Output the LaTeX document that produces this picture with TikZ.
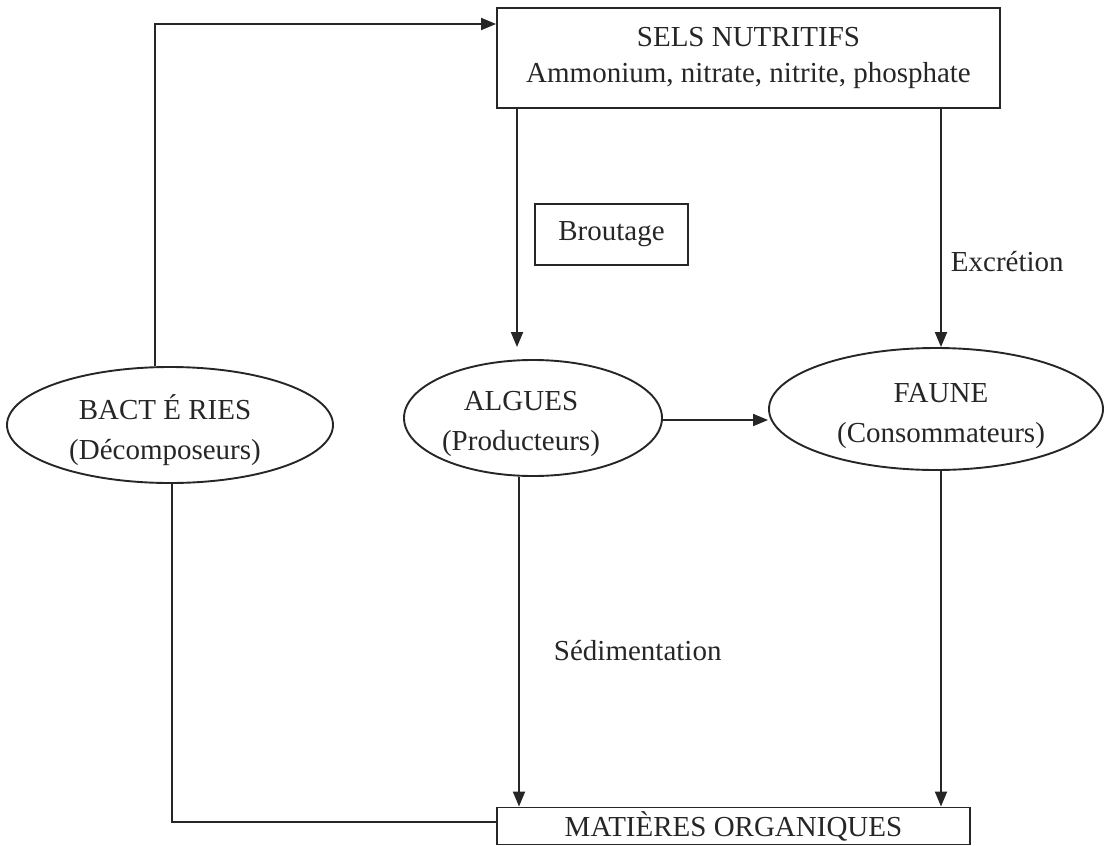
\documentclass[tikz,border=0pt]{standalone}
\usepackage{fontspec}
\setmainfont{Liberation Serif}
\usetikzlibrary{arrows.meta,shapes.geometric}
\begin{document}
\begin{tikzpicture}[x=1pt,y=-1pt, line width=1.9pt, draw=black!85,
  every node/.style={font=\fontsize{29}{40}\selectfont, text=black!85},
  box/.style={draw, rectangle, inner sep=0pt, align=center},
  ell/.style={draw, ellipse, inner sep=0pt},
  txt/.style={inner sep=0pt, align=center},
  arr/.style={-{Triangle[length=15pt,width=12pt]}},
  lbl/.style={inner sep=0pt, anchor=west}]
\useasboundingbox (0,0) rectangle (1104,846);
\node[box, minimum width=503pt, minimum height=100pt] (sels) at (748.5,58) {SELS NUTRITIFS\\[-4pt]Ammonium, nitrate, nitrite, phosphate};
\node[box, minimum width=153pt, minimum height=61pt] (brout) at (611.5,234.5) {Broutage};
\node[ell, minimum width=326pt, minimum height=116pt] (bact) at (170,425) {};
\node[txt] (bactT) at (165,430) {BACT É RIES\\(Décomposeurs)};
\node[ell, minimum width=258pt, minimum height=116pt] (algues) at (533,418) {};
\node[txt] (alguesT) at (521,424) {ALGUES\\(Producteurs)};
\node[ell, minimum width=334pt, minimum height=122pt] (faune) at (936,409) {};
\node[txt] (fauneT) at (941,416) {FAUNE\\(Consommateurs)};
\node[box, minimum width=473pt, minimum height=37pt] (mat) at (733.5,826) {MATIÈRES ORGANIQUES};
\node[lbl] (excr) at (950,262) {Excrétion};
\node[lbl] (sedim) at (553,651) {Sédimentation};
\coordinate (aN) at ([xshift=-16pt]algues.north);
\coordinate (aS) at ([xshift=-14pt]algues.south);
\coordinate (fN) at ([xshift=5pt]faune.north);
\coordinate (fS) at ([xshift=5pt]faune.south);
% connectors
\draw[arr] ([xshift=-15pt]bact.north) |- ([yshift=34pt]sels.west);
\draw ([xshift=2pt]bact.south) |- ([yshift=4pt]mat.west);
\draw[arr, shorten >=12pt] (sels.south -| aN) -- (aN);
\draw[arr] (sels.south -| fN) -- (fN);
\draw[arr] ([yshift=-2pt]algues.east) -- ([yshift=-2pt]algues.east -| faune.west);
\draw[arr] (aS) -- (aS |- mat.north);
\draw[arr] (fS) -- (fS |- mat.north);
\end{tikzpicture}
\end{document}
